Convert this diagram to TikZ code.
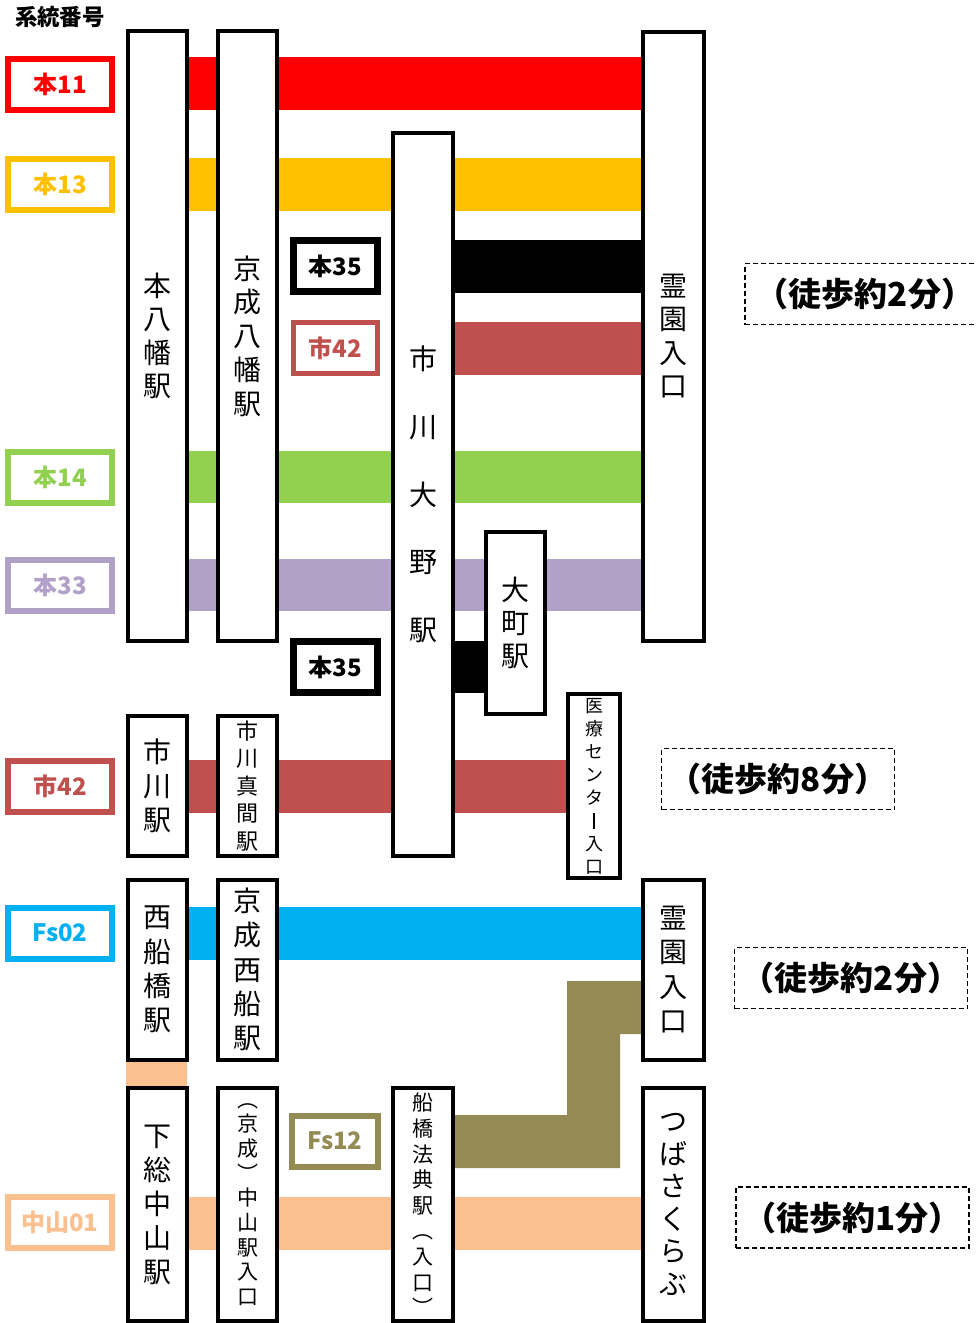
\documentclass[tikz,border=0pt]{standalone}
\usepackage{fontspec}
\setmainfont{Noto Sans CJK JP}
\usetikzlibrary{backgrounds}
\definecolor{cRed}{HTML}{FF0000}
\definecolor{cYel}{HTML}{FFC000}
\definecolor{cGrn}{HTML}{92D050}
\definecolor{cPur}{HTML}{B1A0C7}
\definecolor{cIch}{HTML}{C0504D}
\definecolor{cBlu}{HTML}{00B0F0}
\definecolor{cPea}{HTML}{FAC090}
\definecolor{cOli}{HTML}{948A54}
\newcommand{\fsz}[2]{\fontsize{#1}{#2}\selectfont}
\newcommand{\vchoon}{\rule[-1.5pt]{1.6pt}{16pt}}
\begin{document}
\begin{tikzpicture}[x=1pt,y=-1pt,
  stn/.style={draw=black, line width=4, fill=white, inner sep=0pt, align=center},
  rlab/.style={draw, line width=6, fill=white, minimum width=104, minimum height=51, inner sep=0pt, font={\bfseries\fsz{24}{24}}},
  mlab/.style={draw, line width=6, fill=white, minimum width=84, minimum height=51, inner sep=0pt, font={\bfseries\fsz{24}{24}}},
  walk/.style={draw, dash pattern=on 5pt off 3pt, line width=1.5, minimum width=233, minimum height=61, inner sep=0pt, font={\bfseries\fsz{33}{33}}}]
\useasboundingbox (0,0) rectangle (975,1323);

% title
\node[font={\bfseries\fsz{22.5}{22.5}}] (title) at (60,17) {系統番号};

% route labels (left)
\node[rlab, draw=cRed, text=cRed] (l11) at (60,84) {本11};
\node[rlab, draw=cYel, text=cYel] (l13) at (60,184) {本13};
\node[rlab, draw=cGrn, text=cGrn] (l14) at (60,477) {本14};
\node[rlab, draw=cPur, text=cPur] (l33) at (60,585) {本33};
\node[rlab, draw=cIch, text=cIch] (l42) at (60,786) {市42};
\node[rlab, draw=cBlu, text=cBlu] (lfs02) at (60,933) {Fs02};
\node[rlab, draw=cPea, text=cPea] (lnk01) at (60,1222) {中山01};

% middle labels
\node[mlab, line width=7, draw=black] (m35a) at (335,266) {本35};
\node[mlab, line width=5, draw=cIch, text=cIch] (m42) at (335,348) {市42};
\node[mlab, line width=7, draw=black] (m35b) at (335,667) {本35};
\node[mlab, minimum width=86, draw=cOli, text=cOli] (mfs12) at (335,1141) {Fs12};

% stations
\node[stn, minimum width=59, minimum height=610, font={\fsz{28}{33.5}}] (hy) at (157.5,336) {本\\八\\幡\\駅};
\node[stn, minimum width=59, minimum height=610, font={\fsz{28}{33.8}}] (ky) at (247.5,336) {京\\成\\八\\幡\\駅};
\node[stn, minimum width=60, minimum height=723, font={\fsz{28}{67.8}}] (oono) at (423,494.5) {市\\川\\大\\野\\駅};
\node[stn, minimum width=61, minimum height=609, font={\fsz{28}{33.5}}] (ri1) at (673.5,336) {霊\\園\\入\\口};
\node[stn, minimum width=59, minimum height=182, font={\fsz{28}{33}}] (om) at (515,623) {大\\町\\駅};
\node[stn, minimum width=52, minimum height=184, font={\fsz{18}{23}}] (iryo) at (594,786) {医\\療\\セ\\ン\\タ\\\vchoon\\入\\口};
\node[stn, minimum width=59, minimum height=140, font={\fsz{28}{34}}] (ichi) at (157.5,786) {市\\川\\駅};
\node[stn, minimum width=59, minimum height=140, font={\fsz{22}{27.5}}] (mama) at (247.5,786) {市\\川\\真\\間\\駅};
\node[stn, minimum width=59, minimum height=180, font={\fsz{28}{34.3}}] (nf) at (157.5,969.5) {西\\船\\橋\\駅};
\node[stn, minimum width=59, minimum height=180, font={\fsz{28}{34.2}}] (kn) at (247.5,969.5) {京\\成\\西\\船\\駅};
\node[stn, minimum width=61, minimum height=180, font={\fsz{28}{34.3}}] (ri2) at (673.5,969.5) {霊\\園\\入\\口};
\node[stn, minimum width=59, minimum height=233, font={\fsz{28}{34}}] (sn) at (157.5,1204.5) {下\\総\\中\\山\\駅};
\node[stn, minimum width=59, minimum height=233, font={\fsz{21}{24.7}}] (kni) at (247.5,1204.5) {︵\\京\\成\\︶\\中\\山\\駅\\入\\口};
\node[stn, minimum width=60, minimum height=233, font={\fsz{21}{25.6}}] (fh) at (423,1204.5) {船\\橋\\法\\典\\駅\\︵\\入\\口\\︶};
\node[stn, minimum width=61, minimum height=233, font={\fsz{28}{32.5}}] (tsu) at (673.5,1204.5) {つ\\ば\\さ\\く\\ら\\ぶ};

% walking notes
\node[walk, minimum width=240] (w1) at (865,294) {（徒歩約2分）};
\node[walk] (w2) at (778,779) {（徒歩約8分）};
\node[walk] (w3) at (851,978) {（徒歩約2分）};
\node[walk] (w4) at (852.5,1217.5) {（徒歩約1分）};

% route bands
\begin{pgfonlayer}{background}
\fill[cRed] (157,57) rectangle (673,110);
\fill[cYel] (157,158) rectangle (673,211);
\fill[black] (423,240) rectangle (673,293);
\fill[cIch] (423,322) rectangle (673,375);
\fill[cGrn] (157,451) rectangle (673,503);
\fill[cPur] (157,559) rectangle (673,611);
\fill[black] (423,641) rectangle (515,693);
\fill[cIch] (157,760) rectangle (594,813);
\fill[cBlu] (157,907) rectangle (673,960);
\fill[cPea] (126,1040) rectangle (187,1100);
\fill[cOli] (423,1115) -- (567,1115) -- (567,981) -- (673,981) -- (673,1034) -- (620,1034) -- (620,1168) -- (423,1168) -- cycle;
\fill[cPea] (157,1197) rectangle (673,1250);
\end{pgfonlayer}
\end{tikzpicture}
\end{document}
